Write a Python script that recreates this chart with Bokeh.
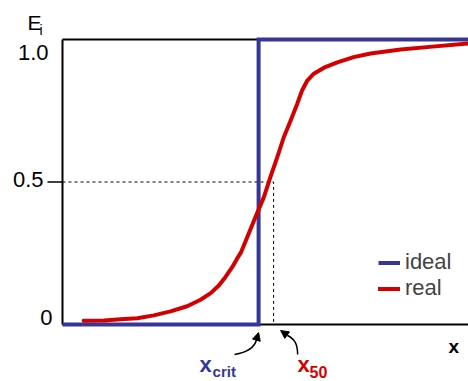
from bokeh.plotting import figure
from bokeh.models import Range1d, Legend, LegendItem, Arrow, NormalHead
from bokeh.core.properties import value
from bokeh.embed import file_html
from bokeh.resources import INLINE

# ---------------- data ----------------
tick_values = [0.0, 0.5, 1.0]
tick_labels = ["0", "0.5", "1.0"]
series_names = ["ideal", "real"]

x_crit = 0.483   # ideal cut point
x_50 = 0.520     # real 50 % point
ideal_x = [0.0, x_crit, x_crit, 1.0]
ideal_y = [0.0, 0.0, 1.0, 1.0]

real_x = [0.052, 0.102, 0.143, 0.184, 0.225, 0.266, 0.307, 0.340, 0.365, 0.385,
          0.401, 0.418, 0.430, 0.440, 0.455, 0.475, 0.496, 0.512, 0.529, 0.545,
          0.562, 0.578, 0.590, 0.603, 0.619, 0.644, 0.677, 0.717, 0.759, 0.833,
          0.911, 1.000]
real_y = [0.013, 0.014, 0.018, 0.022, 0.032, 0.046, 0.064, 0.087, 0.110, 0.137,
          0.166, 0.201, 0.231, 0.254, 0.306, 0.376, 0.447, 0.517, 0.587, 0.657,
          0.716, 0.774, 0.821, 0.856, 0.880, 0.901, 0.920, 0.938, 0.951, 0.965,
          0.975, 0.986]

# ---------------- style ----------------
BLUE = "#363699"
RED = "#d40000"
FONT_NAME = "Liberation Sans"
FONT = value(FONT_NAME)
PX_X, PX_Y = 406.0, 285.0          # pixels per data unit
W, H = 468, 381
x_lo, x_hi = 0.0, 1.0
x_start = x_hi - W / PX_X
y_start = -57 / PX_Y


def ox(anchor, px):
    return anchor + px / PX_X


def oy(anchor, px):          # px measured downward on screen
    return anchor - px / PX_Y


p = figure(width=W, height=H,
           x_range=Range1d(x_start, x_hi), y_range=Range1d(y_start, y_start + H / PX_Y),
           output_backend="svg", toolbar_location=None,
           x_axis_type=None, y_axis_type=None, min_border=0)
p.outline_line_color = None
p.background_fill_color = "white"
p.border_fill_color = "white"

# axis frame lines
p.line([x_lo, x_lo], [0.0, 1.0], line_color="black", line_width=2)
p.line([x_lo, x_hi], [1.0, 1.0], line_color="black", line_width=2)
p.line([x_lo, x_hi], [0.0, 0.0], line_color="black", line_width=2)

# tick mark at 0.5
p.segment(x0=[ox(x_lo, -15)], y0=[0.5], x1=[x_lo], y1=[0.5], line_color="black", line_width=1.3)

# tick labels
p.text(x=[x_lo] * 3, y=tick_values, text=tick_labels,
       x_offset=[-10, -19, -14], y_offset=[-7, -3, 13],
       text_align="right", text_baseline="alphabetic",
       text_font=FONT, text_font_size="22px", text_color="black")

# E_i
p.text(x=[x_lo], y=[1.0], text=["E"], x_offset=[-35], y_offset=[-17],
       text_align="left", text_baseline="alphabetic",
       text_font=FONT, text_font_size="21px", text_color="black")
p.text(x=[x_lo], y=[1.0], text=["i"], x_offset=[-23], y_offset=[-10],
       text_align="left", text_baseline="alphabetic",
       text_font=FONT, text_font_size="14px", text_color="black")

# axis name x
p.text(x=[x_hi], y=[0.0], text=["x"], x_offset=[-20], y_offset=[22],
       text_align="left", text_baseline="alphabetic",
       text_font=FONT, text_font_size="19px", text_font_style="bold", text_color="black")

# dashed guides at 50 %
p.line([x_lo, x_50, x_50], [0.5, 0.5, 0.0], line_color="black", line_width=1,
       line_dash="3 3")

# curves
r_ideal = p.line(ideal_x, ideal_y, line_color=BLUE, line_width=4, line_join="miter")
r_real = p.line(real_x, real_y, line_color=RED, line_width=4, line_join="round", line_cap="round")

# x_crit / x_50 labels
p.text(x=[x_crit], y=[0.0], text=["x"], x_offset=[-59], y_offset=[40],
       text_align="left", text_baseline="alphabetic",
       text_font=FONT, text_font_size="22px", text_font_style="bold", text_color=BLUE)
p.text(x=[x_crit], y=[0.0], text=["crit"], x_offset=[-46], y_offset=[47],
       text_align="left", text_baseline="alphabetic",
       text_font=FONT, text_font_size="15px", text_font_style="bold", text_color=BLUE)
p.text(x=[x_50], y=[0.0], text=["x"], x_offset=[24], y_offset=[40],
       text_align="left", text_baseline="alphabetic",
       text_font=FONT, text_font_size="22px", text_font_style="bold", text_color=RED)
p.text(x=[x_50], y=[0.0], text=["50"], x_offset=[36], y_offset=[47],
       text_align="left", text_baseline="alphabetic",
       text_font=FONT, text_font_size="16px", text_font_style="bold", text_color=RED)

# curved pointer arrows
p.bezier(x0=[ox(x_crit, -24)], y0=[oy(0, 30)], x1=[ox(x_crit, -2)], y1=[oy(0, 15)],
         cx0=[ox(x_crit, -12)], cy0=[oy(0, 28)], cx1=[ox(x_crit, -4)], cy1=[oy(0, 23)],
         line_color="black", line_width=1.5)
p.add_layout(Arrow(end=NormalHead(size=8, fill_color="black", line_color="black"),
                   x_start=ox(x_crit, -2), y_start=oy(0, 15),
                   x_end=ox(x_crit, 0), y_end=oy(0, 8), line_color="black", line_width=1.5))
p.bezier(x0=[ox(x_50, 24)], y0=[oy(0, 30)], x1=[ox(x_50, 14)], y1=[oy(0, 11)],
         cx0=[ox(x_50, 24)], cy0=[oy(0, 21)], cx1=[ox(x_50, 22)], cy1=[oy(0, 15)],
         line_color="black", line_width=1.5)
p.add_layout(Arrow(end=NormalHead(size=8, fill_color="black", line_color="black"),
                   x_start=ox(x_50, 14), y_start=oy(0, 11),
                   x_end=ox(x_50, 7), y_end=oy(0, 6), line_color="black", line_width=1.5))

# legend
legend = Legend(items=[LegendItem(label=series_names[0], renderers=[r_ideal]),
                       LegendItem(label=series_names[1], renderers=[r_real])],
                location=(378, 80), glyph_width=22, glyph_height=23, label_height=23,
                label_standoff=5, spacing=0, padding=0, margin=0,
                label_text_font=FONT_NAME, label_text_font_size="22px",
                border_line_color=None, background_fill_alpha=0)
p.add_layout(legend)

open("out.html", "w").write(file_html(p, INLINE))
